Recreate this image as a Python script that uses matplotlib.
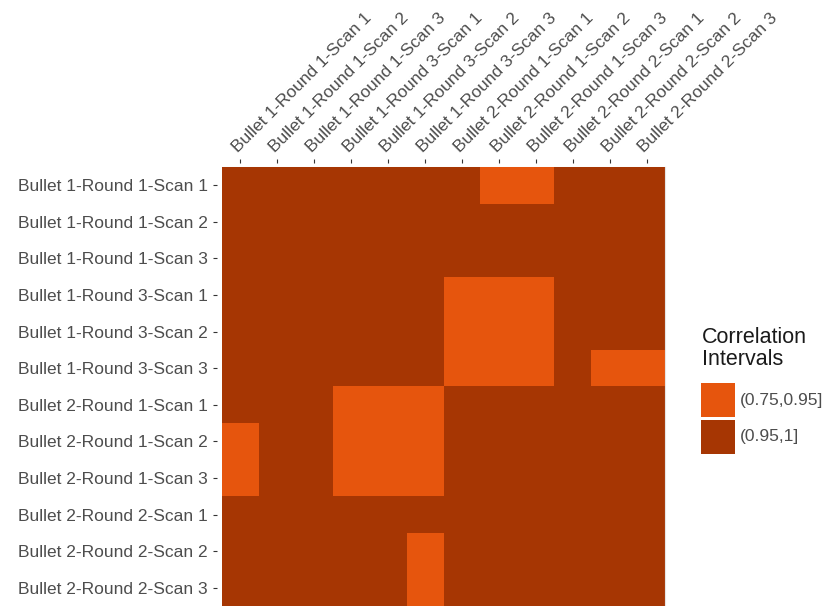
import numpy as np
import matplotlib
matplotlib.use("Agg")
import matplotlib.pyplot as plt
from matplotlib.colors import ListedColormap
from matplotlib.patches import Rectangle

scans = [
    "Bullet 1-Round 1-Scan 1", "Bullet 1-Round 1-Scan 2", "Bullet 1-Round 1-Scan 3",
    "Bullet 1-Round 3-Scan 1", "Bullet 1-Round 3-Scan 2", "Bullet 1-Round 3-Scan 3",
    "Bullet 2-Round 1-Scan 1", "Bullet 2-Round 1-Scan 2", "Bullet 2-Round 1-Scan 3",
    "Bullet 2-Round 2-Scan 1", "Bullet 2-Round 2-Scan 2", "Bullet 2-Round 2-Scan 3",
]
intervals = ["(0.75,0.95]", "(0.95,1]"]
interval_colors = ["#E6550D", "#A63603"]

# index into intervals for every pair (row scan, column scan)
corr_bin = [
    [1, 1, 1, 1, 1, 1, 1, 0, 0, 1, 1, 1],
    [1, 1, 1, 1, 1, 1, 1, 1, 1, 1, 1, 1],
    [1, 1, 1, 1, 1, 1, 1, 1, 1, 1, 1, 1],
    [1, 1, 1, 1, 1, 1, 0, 0, 0, 1, 1, 1],
    [1, 1, 1, 1, 1, 1, 0, 0, 0, 1, 1, 1],
    [1, 1, 1, 1, 1, 1, 0, 0, 0, 1, 0, 0],
    [1, 1, 1, 0, 0, 0, 1, 1, 1, 1, 1, 1],
    [0, 1, 1, 0, 0, 0, 1, 1, 1, 1, 1, 1],
    [0, 1, 1, 0, 0, 0, 1, 1, 1, 1, 1, 1],
    [1, 1, 1, 1, 1, 1, 1, 1, 1, 1, 1, 1],
    [1, 1, 1, 1, 1, 0, 1, 1, 1, 1, 1, 1],
    [1, 1, 1, 1, 1, 0, 1, 1, 1, 1, 1, 1],
]

plt.rcParams["font.family"] = ["Liberation Sans", "DejaVu Sans"]
text_gray = "#4D4D4D"
tick_gray = "#333333"

W, H = 825, 606
fig = plt.figure(figsize=(W / 100, H / 100), dpi=100)
ax = fig.add_axes([222 / W, 0, 443 / W, 439 / H])

cmap = ListedColormap(interval_colors)
n = len(scans)
ax.pcolormesh(np.arange(n + 1), np.arange(n + 1), np.array(corr_bin),
              cmap=cmap, vmin=-0.5, vmax=1.5)
ax.set_xlim(0, n)
ax.set_ylim(n, 0)

# ticks sit a few pixels away from the tiles
for side in ["left", "bottom"]:
    ax.spines[side].set_visible(False)
ax.spines["left"].set_position(("outward", 3.5))
ax.spines["top"].set_position(("outward", 3))
ax.spines["top"].set_visible(False)
ax.spines["right"].set_color("#E5E5E5")
ax.spines["right"].set_linewidth(0.8)
ax.axhline(0, color="#E5E5E5", lw=0.8, clip_on=False, zorder=0.5)

pos = np.arange(n) + 0.5
ax.xaxis.tick_top()
ax.set_xticks(pos)
ax.set_xticklabels(scans, rotation=45, ha="left", va="bottom",
                   rotation_mode="anchor")
ax.set_yticks(pos)
ax.set_yticklabels(scans)
ax.tick_params(axis="both", length=3.2, width=0.8, color=tick_gray,
               labelcolor=text_gray, labelsize=12.5)
ax.tick_params(axis="y", pad=3.5)
ax.tick_params(axis="x", pad=2.5)

# legend: title, colour keys and labels
fig.text(702 / W, 1 - 327 / H, "Correlation\nIntervals", ha="left", va="top",
         fontsize=15.5, color="#1A1A1A", linespacing=1.05)
key_top, key_size, key_gap = 383, 34, 2.5
for i, (lab, col) in enumerate(zip(intervals, interval_colors)):
    y0 = key_top + i * (key_size + key_gap)
    fig.add_artist(Rectangle((701 / W, 1 - (y0 + key_size) / H),
                             key_size / W, key_size / H,
                             transform=fig.transFigure, facecolor=col,
                             edgecolor="none"))
    fig.text(740 / W, 1 - (y0 + key_size / 2) / H, lab, ha="left",
             va="center", fontsize=12.5, color=text_gray)

fig.savefig("out.png", dpi=100)
